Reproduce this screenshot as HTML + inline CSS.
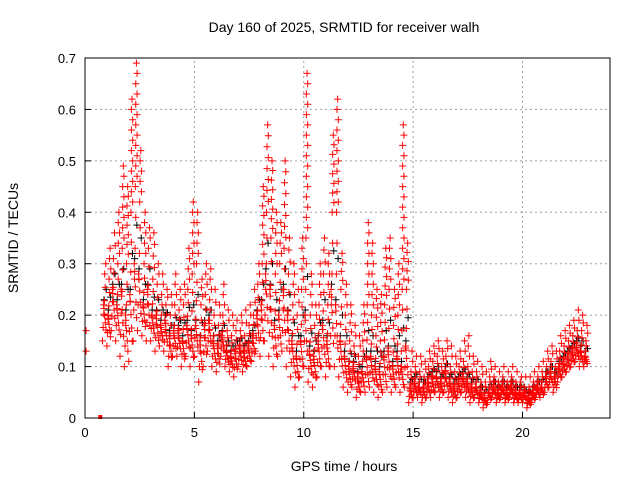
<!DOCTYPE html>
<html><head><meta charset="utf-8"><style>
body{margin:0;background:#fff}
svg{display:block;font-family:"Liberation Sans",sans-serif}
</style></head><body>
<svg id="chart" width="640" height="480">
<text x="344" y="32" font-size="14" text-anchor="middle">Day 160 of 2025, SRMTID for receiver walh</text>
<text x="344" y="471" font-size="14" text-anchor="middle">GPS time / hours</text>
<text transform="translate(18,238) rotate(-90)" font-size="14" text-anchor="middle">SRMTID / TECUs</text>
<g id="grid"></g><g id="marks"></g><g id="axes"></g>
</svg>
<script>
{
const times=[0.8,1.0,1.2,1.4,1.6,1.8,2.0,2.2,2.4,2.6,2.8,3.0,3.2,3.4,3.6,3.8,4.0,4.2,4.4,4.6,4.8,5.0,5.2,5.4,5.6,5.8,6.0,6.2,6.4,6.6,6.8,7.0,7.2,7.4,7.6,7.8,8.0,8.2,8.4,8.6,8.8,9.0,9.2,9.4,9.6,9.8,10.0,10.2,10.4,10.6,10.8,11.0,11.2,11.4,11.6,11.8,12.0,12.2,12.4,12.6,12.8,13.0,13.2,13.4,13.6,13.8,14.0,14.2,14.4,14.6,14.8,15.0,15.2,15.4,15.6,15.8,16.0,16.2,16.4,16.6,16.8,17.0,17.2,17.4,17.6,17.8,18.0,18.2,18.4,18.6,18.8,19.0,19.2,19.4,19.6,19.8,20.0,20.2,20.4,20.6,20.8,21.0,21.2,21.4,21.6,21.8,22.0,22.2,22.4,22.6,22.8];
const lo=[.15,.14,.17,.15,.12,.10,.11,.15,.17,.16,.15,.15,.13,.14,.13,.10,.12,.12,.10,.12,.10,.12,.07,.10,.13,.10,.09,.12,.10,.09,.08,.10,.09,.10,.11,.13,.12,.15,.12,.10,.12,.13,.10,.08,.06,.08,.10,.07,.06,.08,.10,.08,.10,.10,.08,.06,.05,.06,.04,.05,.05,.06,.05,.04,.05,.06,.05,.06,.05,.06,.03,.04,.04,.03,.04,.04,.05,.04,.05,.04,.03,.04,.05,.04,.03,.04,.03,.02,.03,.04,.03,.04,.03,.04,.03,.03,.03,.02,.03,.04,.04,.05,.06,.05,.07,.08,.09,.10,.11,.10,.10];
const mid=[.22,.20,.25,.22,.25,.20,.24,.30,.28,.22,.25,.20,.20,.18,.19,.16,.17,.17,.15,.18,.16,.18,.15,.18,.19,.15,.14,.16,.13,.12,.13,.14,.13,.14,.16,.20,.22,.28,.25,.18,.20,.25,.20,.15,.12,.15,.20,.13,.12,.15,.18,.15,.25,.22,.15,.12,.10,.10,.08,.09,.12,.12,.10,.09,.12,.13,.10,.12,.10,.14,.06,.07,.06,.06,.07,.08,.08,.07,.09,.07,.06,.07,.08,.07,.06,.06,.05,.04,.05,.06,.05,.06,.05,.06,.05,.05,.05,.04,.05,.06,.06,.08,.09,.08,.10,.11,.12,.13,.14,.13,.12];
const hi=[.28,.27,.31,.30,.33,.30,.40,.45,.42,.30,.33,.27,.26,.24,.22,.20,.22,.21,.22,.25,.28,.30,.22,.24,.23,.20,.18,.20,.17,.16,.17,.17,.16,.18,.20,.26,.30,.40,.35,.28,.30,.33,.28,.22,.20,.25,.35,.20,.18,.22,.28,.22,.40,.40,.25,.20,.15,.14,.12,.15,.22,.20,.16,.15,.22,.25,.18,.20,.25,.25,.09,.10,.09,.08,.10,.11,.12,.10,.12,.10,.09,.10,.11,.10,.09,.09,.07,.07,.08,.08,.07,.08,.07,.08,.07,.07,.06,.06,.07,.08,.09,.10,.11,.10,.13,.14,.15,.16,.17,.17,.15];
const peak=[.30,.33,.36,.40,.49,.45,.62,.69,.52,.40,.37,.36,.30,.28,.25,.24,.28,.25,.26,.33,.42,.40,.27,.30,.29,.25,.22,.26,.21,.20,.19,.20,.21,.22,.25,.30,.45,.57,.50,.40,.38,.50,.35,.30,.25,.35,.67,.28,.22,.30,.35,.32,.55,.62,.32,.26,.22,.18,.16,.22,.38,.34,.25,.24,.33,.35,.25,.30,.57,.34,.13,.12,.12,.11,.13,.14,.15,.13,.15,.14,.12,.13,.15,.16,.12,.11,.10,.09,.11,.10,.09,.10,.09,.10,.09,.08,.08,.08,.09,.10,.11,.13,.14,.13,.16,.17,.18,.19,.21,.20,.18];
const earlyTimes=[0.05,0.05];
const earlyVals=[0.13,0.17];
const xTicks=[0,5,10,15,20];
const yTicks=[0,0.1,0.2,0.3,0.4,0.5,0.6,0.7];
const X0=85,X1=610,Y0=418,Y1=58;
const xs=t=>X0+t*(X1-X0)/24;
const ys=v=>Y0-v*(Y0-Y1)/0.7;
const NS="http://www.w3.org/2000/svg";
function mk(tag,attrs,parent){const e=document.createElementNS(NS,tag);for(const k in attrs)e.setAttribute(k,attrs[k]);parent.appendChild(e);return e;}
const grid=document.getElementById('grid'),marks=document.getElementById('marks'),axes=document.getElementById('axes');
xTicks.forEach(t=>{
  if(t>0){const g=mk('line',{x1:xs(t),x2:xs(t),y1:Y0,y2:Y1,stroke:'#a0a0a0','stroke-dasharray':'2,3'},grid);
  
  }
  const tk=mk('line',{x1:xs(t),x2:xs(t),y1:Y0,y2:Y0-6,stroke:'#000'},axes);
  
  
  const l=mk('text',{x:xs(t),y:Y0+19,'font-size':13,'text-anchor':'middle'},axes);l.textContent=t;
  
  
});
yTicks.forEach(v=>{
  if(v>0&&v<0.7){const g=mk('line',{x1:X0,x2:X1,y1:ys(v),y2:ys(v),stroke:'#a0a0a0','stroke-dasharray':'2,3'},grid);
  
  }
  const tk=mk('line',{x1:X0,x2:X0+6,y1:ys(v),y2:ys(v),stroke:'#000'},axes);
  
  
  const l=mk('text',{x:X0-9,y:ys(v)+5,'font-size':13,'text-anchor':'end'},axes);l.textContent=v===0?'0':v.toFixed(1);
  
  
});
const fr=mk('rect',{x:X0,y:Y1,width:X1-X0,height:Y0-Y1,fill:'none',stroke:'#000'},axes);


function cross(t,v,col){
  const x=xs(t),y=ys(v);
  const p=mk('path',{d:`M${x-3.5},${y}h7M${x},${y-3.5}v7`,stroke:col,'stroke-width':1,fill:'none'},marks);
  
  
}
times.forEach((t,i)=>{cross(t+0.07,mid[i]+0.01,'#000');cross(t+0.17,(mid[i]+hi[i])/2,'#000');});
times.forEach((t,i)=>{
  cross(t,lo[i],'#f00');cross(t+0.05,mid[i],'#f00');cross(t+0.1,hi[i],'#f00');cross(t+0.15,peak[i],'#f00');
  const n=5;
  for(let k=1;k<n;k++){
    cross(t+0.03*k,lo[i]+(hi[i]-lo[i])*k/n,'#f00');
    cross(t+0.19-0.03*k,lo[i]+(mid[i]-lo[i])*(k+0.5)/n,'#f00');
  }
  const m=Math.max(1,Math.round((peak[i]-hi[i])/0.02));
  for(let k=1;k<m;k++)cross(t+0.12+(k%2)*0.06,hi[i]+(peak[i]-hi[i])*k/m,'#f00');
});
earlyTimes.forEach((t,i)=>cross(t,earlyVals[i],'#f00'));
const sq=mk('rect',{x:xs(0.7)-2,y:Y0-3,width:4,height:4,fill:'#f00'},marks);


}
</script>
</body></html>
